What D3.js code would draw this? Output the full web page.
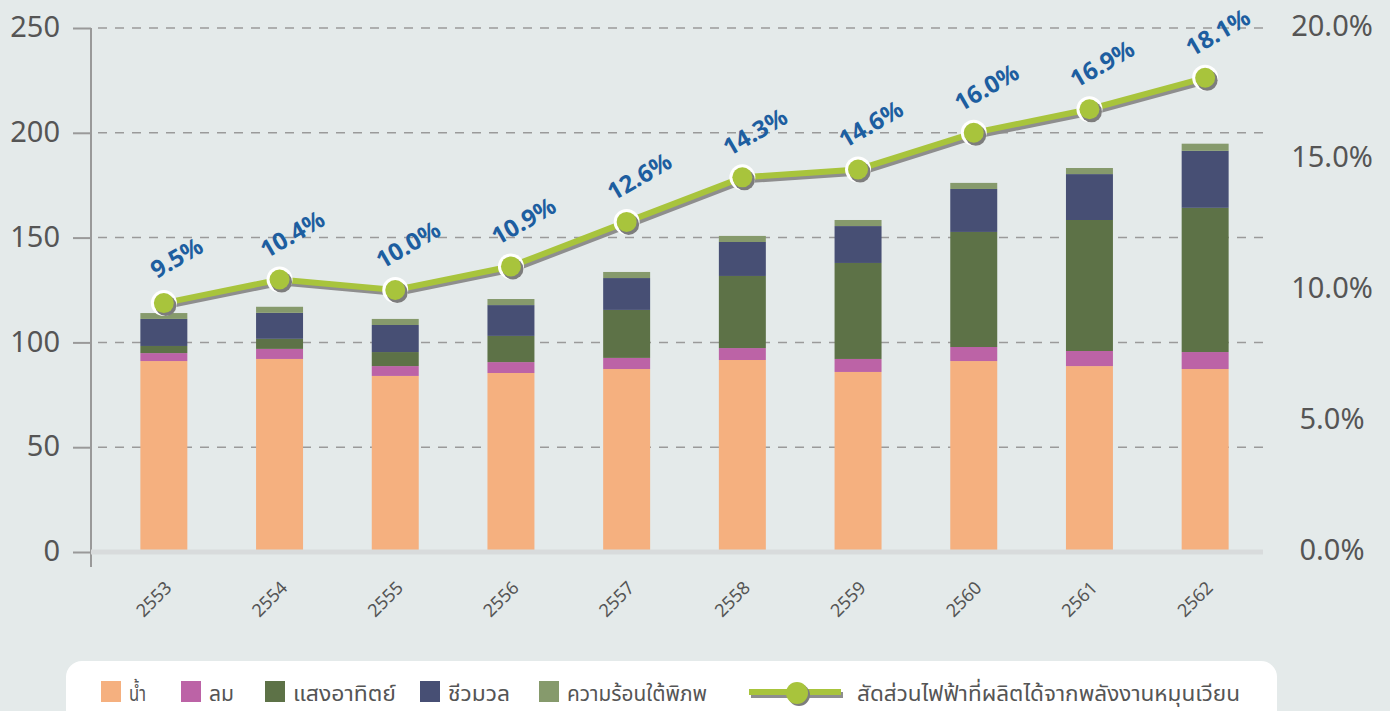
<!DOCTYPE html>
<html>
<head>
<meta charset="utf-8">
<script src="https://cdn.jsdelivr.net/npm/d3@7"></script>
<style>
  body { margin: 0; background: #e4eaea; }
  svg { display: block; font-family: "Noto Sans", "Noto Sans Thai", sans-serif; }
</style>
</head>
<body>
<div id="chart"></div>
<script>
// data
var years = ["2553","2554","2555","2556","2557","2558","2559","2560","2561","2562"];
var hydro = [91.1, 92.1, 84.0, 85.4, 87.3, 91.6, 85.9, 91.1, 88.7, 87.3];
var wind = [3.8, 4.8, 4.7, 5.2, 5.3, 5.7, 6.2, 6.7, 7.2, 8.1];
var solar = [3.4, 4.8, 6.7, 12.5, 22.9, 34.4, 45.8, 54.9, 62.5, 68.8];
var biomass = [12.9, 12.4, 12.9, 14.7, 15.2, 16.2, 17.6, 20.5, 21.9, 27.2];
var geothermal = [2.8, 2.9, 2.9, 2.9, 2.9, 2.9, 2.9, 2.9, 2.9, 3.4];
var share = [9.5, 10.4, 10.0, 10.9, 12.6, 14.3, 14.6, 16.0, 16.9, 18.1];
var leftTicks = [0, 50, 100, 150, 200, 250];
var rightTicks = [0, 5, 10, 15, 20];

var seriesNames = ["น้ำ", "ลม", "แสงอาทิตย์", "ชีวมวล", "ความร้อนใต้พิภพ"];
var lineName = "สัดส่วนไฟฟ้าที่ผลิตได้จากพลังงานหมุนเวียน";
var colors = ["#f5b07f", "#bc63a6", "#5d7247", "#474f74", "#869a6c"];

var W = 1390, H = 711;
var svg = d3.select("#chart").append("svg")
    .attr("width", W)
    .attr("height", H);

svg.append("rect").attr("width", W).attr("height", H).attr("fill", "#e4eaea");

// scales
var x = d3.scaleBand()
    .domain(years)
    .range([106, 1263])
    .paddingInner(0.594)
    .paddingOuter(0.297);
var y = d3.scaleLinear().domain([0, 250]).range([552, 28]);
var y2 = d3.scaleLinear().domain([0, 20]).range([552, 28]);

// gridlines
svg.append("g")
    .selectAll("line")
    .data(leftTicks.slice(1))
    .enter().append("line")
    .attr("x1", 98).attr("x2", 1263)
    .attr("y1", function(d) { return y(d); })
    .attr("y2", function(d) { return y(d); })
    .attr("stroke", "#9a9a9a")
    .attr("stroke-width", 1.5)
    .attr("stroke-dasharray", "9,8");

// left axis
var yAxis = svg.append("g")
    .attr("transform", "translate(91,0)")
    .call(d3.axisLeft(y).tickValues(leftTicks).tickSize(18).tickPadding(13).tickSizeOuter(0));
yAxis.select(".domain").remove();
yAxis.selectAll(".tick line").attr("stroke", "#999").attr("stroke-width", 2);
yAxis.selectAll(".tick text")
    .attr("fill", "#555")
    .attr("font-size", 29)
    .attr("font-family", "Noto Sans")
    .attr("dy", "0.30em");

svg.append("line")
    .attr("x1", 91).attr("x2", 91)
    .attr("y1", y(250)).attr("y2", 567)
    .attr("stroke", "#999").attr("stroke-width", 2);

// right axis
var yAxis2 = svg.append("g")
    .attr("transform", "translate(1332,0)")
    .call(d3.axisRight(y2).tickValues(rightTicks).tickSize(0).tickPadding(0)
        .tickFormat(function(d) { return d.toFixed(1) + "%"; }));
yAxis2.select(".domain").remove();
yAxis2.selectAll(".tick text")
    .attr("text-anchor", "middle")
    .attr("fill", "#555")
    .attr("font-size", 29)
    .attr("font-family", "Noto Sans")
    .attr("dy", "0.25em");

// stacked bars
var rows = years.map(function(yr, i) {
    return { year: yr, s0: hydro[i], s1: wind[i], s2: solar[i], s3: biomass[i], s4: geothermal[i] };
});
var stack = d3.stack().keys(["s0", "s1", "s2", "s3", "s4"])(rows);

svg.append("g")
    .selectAll("g")
    .data(stack)
    .enter().append("g")
    .attr("fill", function(d, i) { return colors[i]; })
    .selectAll("rect")
    .data(function(d) { return d; })
    .enter().append("rect")
    .attr("x", function(d) { return x(d.data.year); })
    .attr("width", x.bandwidth())
    .attr("y", function(d) { return y(d[1]); })
    .attr("height", function(d) { return y(d[0]) - y(d[1]); });

// baseline
svg.append("line")
    .attr("x1", 91).attr("x2", 1263)
    .attr("y1", 552).attr("y2", 552)
    .attr("stroke", "#d8dbdc").attr("stroke-width", 5);

// x labels
svg.append("g")
    .selectAll("text")
    .data(years)
    .enter().append("text")
    .attr("transform", function(d) {
        return "translate(" + (x(d) + x.bandwidth() / 2 + 9) + ",589) rotate(-45)";
    })
    .attr("text-anchor", "end")
    .attr("fill", "#555")
    .attr("font-size", 18)
    .text(function(d) { return d; });

// share line
var cx = function(i) { return x(years[i]) + x.bandwidth() / 2; };
var line = d3.line()
    .x(function(d, i) { return cx(i); })
    .y(function(d) { return y2(d); });

svg.append("path")
    .datum(share)
    .attr("transform", "translate(2,3)")
    .attr("fill", "none")
    .attr("stroke", "#8e8e8e")
    .attr("stroke-width", 6)
    .attr("d", line);
svg.append("path")
    .datum(share)
    .attr("fill", "none")
    .attr("stroke", "#a8c43c")
    .attr("stroke-width", 6)
    .attr("d", line);

var pts = svg.append("g").selectAll("g")
    .data(share)
    .enter().append("g")
    .attr("transform", function(d, i) { return "translate(" + cx(i) + "," + y2(d) + ")"; });
pts.append("circle").attr("r", 13).attr("fill", "#fff");
pts.append("circle").attr("cx", 2).attr("cy", 2.5).attr("r", 10.5).attr("fill", "#7d7d7d");
pts.append("circle").attr("r", 10).attr("fill", "#a8c43c");

// value labels
svg.append("g")
    .selectAll("text")
    .data(share)
    .enter().append("text")
    .attr("transform", function(d, i) {
        return "translate(" + (cx(i) + 17) + "," + (y2(d) - 38) + ") rotate(-30)";
    })
    .attr("text-anchor", "middle")
    .attr("fill", "#1d5ea0")
    .attr("font-weight", "bold")
    .attr("font-size", 24)
    .text(function(d) { return d.toFixed(1) + "%"; });

// legend
var legend = svg.append("g");
legend.append("rect")
    .attr("x", 66).attr("y", 661)
    .attr("width", 1211).attr("height", 80)
    .attr("rx", 16)
    .attr("fill", "#fff");

var legendX = [101, 181, 265, 420, 539];
var legendW = [17, 25, 103, 62, 140];
seriesNames.forEach(function(name, i) {
    legend.append("rect")
        .attr("x", legendX[i]).attr("y", 681)
        .attr("width", 20).attr("height", 21)
        .attr("fill", colors[i]);
    legend.append("text")
        .attr("x", legendX[i] + 28).attr("y", 701)
        .attr("fill", "#555")
        .attr("font-size", 22)
        .attr("textLength", legendW[i])
        .attr("lengthAdjust", "spacingAndGlyphs")
        .text(name);
});

legend.append("line")
    .attr("x1", 751).attr("x2", 843).attr("y1", 695).attr("y2", 695)
    .attr("stroke", "#8e8e8e").attr("stroke-width", 6);
legend.append("line")
    .attr("x1", 749).attr("x2", 841).attr("y1", 692).attr("y2", 692)
    .attr("stroke", "#a8c43c").attr("stroke-width", 6);
legend.append("circle").attr("cx", 799).attr("cy", 695).attr("r", 11).attr("fill", "#7d7d7d");
legend.append("circle").attr("cx", 797).attr("cy", 693).attr("r", 11).attr("fill", "#a8c43c");
legend.append("text")
    .attr("x", 857).attr("y", 701)
    .attr("fill", "#555")
    .attr("font-size", 22)
    .attr("textLength", 383)
    .attr("lengthAdjust", "spacingAndGlyphs")
    .text(lineName);
</script>
</body>
</html>
